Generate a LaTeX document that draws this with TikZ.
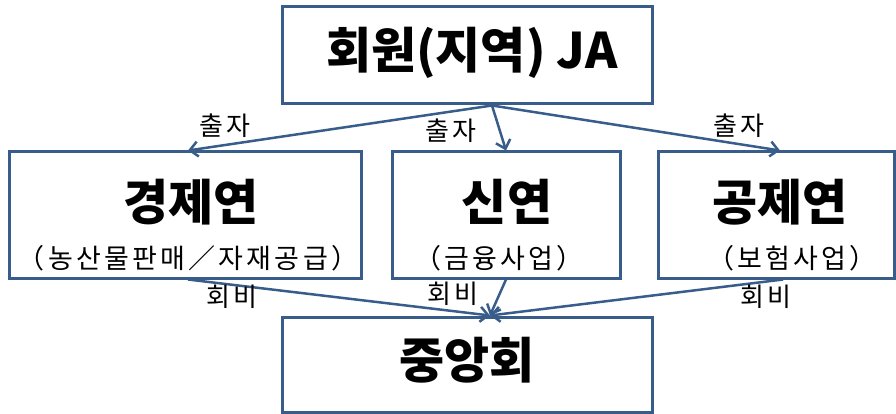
\documentclass[tikz,border=0pt]{standalone}
\usepackage{fontspec}
\setmainfont{Noto Sans CJK KR}
\newfontfamily\espace{Noto Sans CJK KR}[LetterSpace=12]
\usetikzlibrary{arrows.meta}
\definecolor{Contour}{HTML}{385D8A}

\begin{document}
\begin{tikzpicture}[x=1pt, y=-1pt,
  boite/.style={draw=Contour, line width=3pt, inner sep=0pt},
  titre/.style={font=\fontsize{49}{51}\selectfont\bfseries},
  sous/.style={font=\espace\fontsize{27}{29}\selectfont},
  etiquette/.style={font=\espace\fontsize{26}{28}\selectfont},
  fleche/.style={-{Straight Barb[length=8pt,width=15pt]}, draw=Contour, line width=2.5pt}]

 \useasboundingbox (0,0) rectangle (896,414);

 %%%%%%%%%% Boites %%%%%%%%%%
 \node[boite, minimum width=370pt, minimum height=97pt] (ja) at (467,55.5) {};
 \node[boite, minimum width=352pt, minimum height=126pt] (gyeong) at (185,215) {};
 \node[boite, minimum width=228pt, minimum height=126pt] (sin) at (506,215) {};
 \node[boite, minimum width=236pt, minimum height=126pt] (gong) at (776,215) {};
 \node[boite, minimum width=370pt, minimum height=95pt] (jung) at (467,364.5) {};

 %%%%%%%%%% Textes %%%%%%%%%%
 \node[titre] (ja-t) at (472,53) {회원(지역) JA};
 \node[titre] (gyeong-t) at (191,202) {경제연};
 \node[sous] (gyeong-s) at (188,258) {（농산물판매／자재공급）};
 \node[titre] (sin-t) at (507,202) {신연};
 \node[sous] (sin-s) at (499,258) {（금융사업）};
 \node[titre] (gong-t) at (780,202) {공제연};
 \node[sous] (gong-s) at (792,258) {（보험사업）};
 \node[titre] (jung-t) at (467,360) {중앙회};

 %%%%%%%%%% 출자 %%%%%%%%%%
 \draw[fleche] ([xshift=25pt]ja.south) -- ([xshift=3pt]gyeong.north) ;
 \draw[fleche] ([xshift=25pt]ja.south) -- (sin.north) ;
 \draw[fleche] ([xshift=25pt]ja.south) -- ([xshift=4pt]gong.north) ;
 \node[etiquette] (cl) at (225,126) {출자};
 \node[etiquette] (cm) at (451,131) {출자};
 \node[etiquette] (cr) at (739,126) {출자};

 %%%%%%%%%% 회비 %%%%%%%%%%
 \draw[fleche] ([xshift=3pt]gyeong.south) -- ([xshift=23pt]jung.north) ;
 \draw[fleche] (sin.south) -- ([xshift=23pt]jung.north) ;
 \draw[fleche] ([xshift=7pt]gong.south) -- ([xshift=23pt]jung.north) ;
 \node[etiquette] (fl) at (232,297) {회비};
 \node[etiquette] (fm) at (453,294) {회비};
 \node[etiquette] (fr) at (766,297) {회비};

\end{tikzpicture}
\end{document}
